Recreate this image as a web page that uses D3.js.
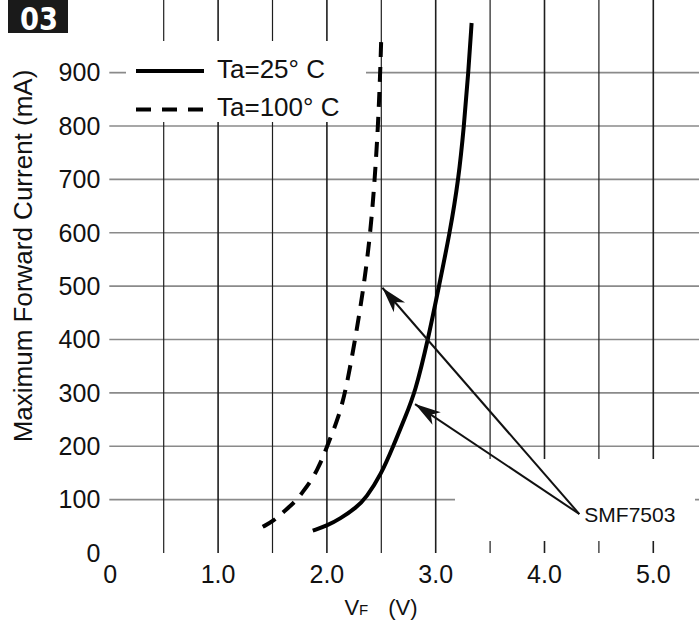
<!DOCTYPE html>
<html>
<head>
<meta charset="utf-8">
<script src="https://cdn.jsdelivr.net/npm/d3@7"></script>
<style>
  html, body { margin: 0; padding: 0; background: #fff; }
  svg { display: block; font-family: "Liberation Sans", Arial, sans-serif; }
</style>
</head>
<body>
<script>
// values
var vf25 = [1.87, 2.0, 2.12, 2.27, 2.36, 2.5, 2.61, 2.72, 2.81, 2.93, 3.03, 3.13, 3.21, 3.26, 3.3, 3.33];
var if25 = [42, 51, 64, 85, 103, 148, 200, 255, 300, 400, 500, 600, 700, 800, 900, 993];

var vf100 = [1.41, 1.51, 1.6, 1.71, 1.78, 1.86, 1.91, 1.96, 2.0, 2.05, 2.1, 2.17, 2.26, 2.34, 2.4, 2.44, 2.47, 2.49, 2.5];
var if100 = [49, 60, 77, 96, 115, 137, 156, 177, 199, 225, 251, 300, 400, 500, 600, 700, 800, 900, 968];

var xTicks = [0, 1, 2, 3, 4, 5];
var xTickLabels = ["0", "1.0", "2.0", "3.0", "4.0", "5.0"];
var xGrid = [0.5, 1, 1.5, 2, 2.5, 3, 3.5, 4, 4.5, 5];
var yTicks = [0, 100, 200, 300, 400, 500, 600, 700, 800, 900];

var legendNames = ["Ta=25\u00b0 C", "Ta=100\u00b0 C"];
var partName = "SMF7503";
var arrowFrom = [4.32, 73];
var arrowTips = [[2.51, 497], [2.81, 279]];

var W = 699, H = 621;
var svg = d3.select("body").append("svg")
    .attr("width", W)
    .attr("height", H);

var x = d3.scaleLinear().domain([0, 5]).range([109.3, 653.3]);
var y = d3.scaleLinear().domain([0, 993]).range([553, 23]);
var left = x(0), bottom = y(0), top = y(993);

// grid
svg.append("g").selectAll("line")
    .data(yTicks.slice(1))
    .join("line")
    .attr("x1", left).attr("x2", W)
    .attr("y1", d => y(d)).attr("y2", d => y(d))
    .attr("stroke", "#8a8a8a")
    .attr("stroke-width", 1.6);

svg.append("g").selectAll("line")
    .data(xGrid)
    .join("line")
    .attr("x1", d => x(d)).attr("x2", d => x(d))
    .attr("y1", top).attr("y2", bottom)
    .attr("stroke", "#1e1e1e")
    .attr("stroke-width", d => d % 1 == 0 ? 1.6 : 1.2);

// white knock-out boxes behind legend and part label
svg.append("rect").attr("x", 126).attr("y", 41).attr("width", 240).attr("height", 81).attr("fill", "#fff");
svg.append("rect").attr("x", 455).attr("y", 459).attr("width", 240).attr("height", 82).attr("fill", "#fff");

// frame
svg.append("path")
    .attr("d", `M${W},${top}H${left}V${bottom}H${W}`)
    .attr("fill", "none")
    .attr("stroke", "#111")
    .attr("stroke-width", 2);

// tick labels
svg.append("g").selectAll("text")
    .data(yTicks)
    .join("text")
    .attr("x", left - 9)
    .attr("y", d => y(d))
    .attr("dy", "0.35em")
    .attr("text-anchor", "end")
    .attr("font-size", 25)
    .attr("fill", "#111")
    .text(d => d);

svg.append("g").selectAll("text")
    .data(xTicks)
    .join("text")
    .attr("x", (d, i) => x(d) + (i == 0 ? 1 : 0))
    .attr("y", 582.7)
    .attr("text-anchor", "middle")
    .attr("font-size", 25)
    .attr("fill", "#111")
    .text((d, i) => xTickLabels[i]);

// axis titles
svg.append("text")
    .attr("transform", "translate(31.5,256) rotate(-90)")
    .attr("text-anchor", "middle")
    .attr("font-size", 26)
    .attr("fill", "#111")
    .text("Maximum Forward Current (mA)");

var xt = svg.append("text")
    .attr("x", 381)
    .attr("y", 615)
    .attr("text-anchor", "middle")
    .attr("fill", "#111");
xt.append("tspan").attr("font-size", 22).text("V");
xt.append("tspan").attr("font-size", 15).text("F");
xt.append("tspan").attr("font-size", 22).attr("dx", 20).text("(V)");

// curves
var line = d3.line()
    .x(d => x(d[0]))
    .y(d => y(d[1]))
    .curve(d3.curveBasis);

svg.append("path")
    .datum(vf25.map((v, i) => [v, if25[i]]))
    .attr("d", line)
    .attr("fill", "none")
    .attr("stroke", "#000")
    .attr("stroke-width", 4);

svg.append("path")
    .datum(vf100.map((v, i) => [v, if100[i]]))
    .attr("d", line)
    .attr("fill", "none")
    .attr("stroke", "#000")
    .attr("stroke-width", 4)
    .attr("stroke-dasharray", "15,10");

// legend
var legend = svg.append("g");
legend.selectAll("line")
    .data(legendNames)
    .join("line")
    .attr("x1", 136).attr("x2", 204)
    .attr("y1", (d, i) => 71 + i * 38.5).attr("y2", (d, i) => 71 + i * 38.5)
    .attr("stroke", "#000")
    .attr("stroke-width", 4)
    .attr("stroke-dasharray", (d, i) => i == 1 ? "15,11" : null);
legend.selectAll("text")
    .data(legendNames)
    .join("text")
    .attr("x", 217)
    .attr("y", (d, i) => 77.5 + i * 38)
    .attr("font-size", 26)
    .attr("fill", "#111")
    .text(d => d);

// arrows to the part label
svg.append("defs").append("marker")
    .attr("id", "head")
    .attr("markerUnits", "userSpaceOnUse")
    .attr("viewBox", "-28 -10 30 20")
    .attr("markerWidth", 30).attr("markerHeight", 20)
    .attr("refX", 0).attr("refY", 0)
    .attr("orient", "auto")
    .append("path")
    .attr("d", "M0,0L-26,-7.5L-19,0L-26,7.5Z")
    .attr("fill", "#111");

svg.append("g").selectAll("line")
    .data(arrowTips)
    .join("line")
    .attr("x1", x(arrowFrom[0])).attr("y1", y(arrowFrom[1]))
    .attr("x2", d => x(d[0])).attr("y2", d => y(d[1]))
    .attr("stroke", "#111")
    .attr("stroke-width", 2)
    .attr("marker-end", "url(#head)");

svg.append("text")
    .attr("x", x(arrowFrom[0]) + 5)
    .attr("y", 521.7)
    .attr("font-size", 21)
    .attr("fill", "#111")
    .text(partName);

// figure badge
svg.append("rect").attr("x", 8).attr("y", 0).attr("width", 60).attr("height", 33).attr("fill", "#1a1a1a");
svg.append("text")
    .attr("x", 20)
    .attr("y", 30)
    .attr("font-family", "'DejaVu Sans Condensed', 'DejaVu Sans', sans-serif")
    .attr("font-weight", "bold")
    .attr("font-size", 32)
    .attr("textLength", 38)
    .attr("lengthAdjust", "spacingAndGlyphs")
    .attr("fill", "#fff")
    .text("03");
</script>
</body>
</html>
